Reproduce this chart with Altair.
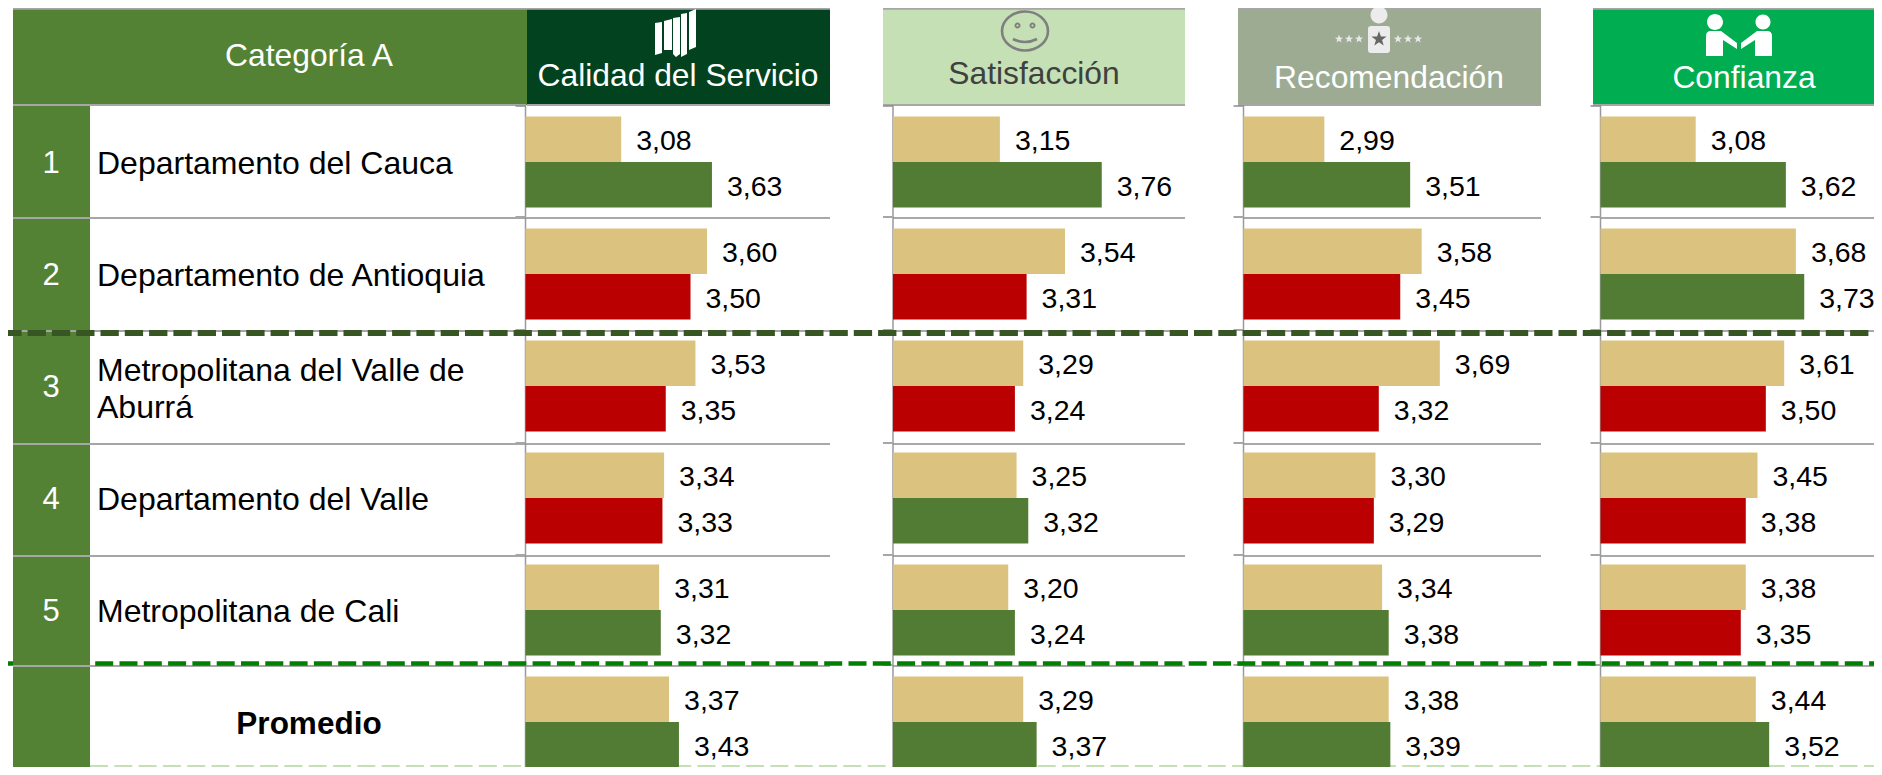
import altair as alt
import pandas as pd

# ---------- data ----------
ROWS = ["1", "2", "3", "4", "5", "P"]
ROW_NUM = ["1", "2", "3", "4", "5"]
ROW_NAMES = ["Departamento del Cauca", "Departamento de Antioquia",
             "", "Departamento del Valle", "Metropolitana de Cali"]
ROW3_NAME = ["Metropolitana del Valle de", "Aburrá"]
PANELS = ["Calidad del Servicio", "Satisfacción", "Recomendación", "Confianza"]
PREV = [
    [3.08, 3.60, 3.53, 3.34, 3.31, 3.37],
    [3.15, 3.54, 3.29, 3.25, 3.20, 3.29],
    [2.99, 3.58, 3.69, 3.30, 3.34, 3.38],
    [3.08, 3.68, 3.61, 3.45, 3.38, 3.44],
]
CURR = [
    [3.63, 3.50, 3.35, 3.33, 3.32, 3.43],
    [3.76, 3.31, 3.24, 3.32, 3.24, 3.37],
    [3.51, 3.45, 3.32, 3.29, 3.38, 3.39],
    [3.62, 3.73, 3.50, 3.38, 3.35, 3.52],
]

# ---------- layout (page pixels; the chart starts at 8,8) ----------
M = 8
FONT = "Liberation Sans"
TAN, GREEN, RED = "#DBC37F", "#527C34", "#BA0000"
CELL = "#548235"
GRID = "#A6A6A6"
AXIS_X = [525.5, 893, 1243.5, 1600.5]
HEAD_L = [527, 883, 1238, 1593]
HEAD_R = [830, 1185, 1541, 1882]
HEAD_BG = ["#02421F", "#C5E0B4", "#9DAB93", "#00AD50"]
HEAD_FG = ["#FFFFFF", "#404040", "#FFFFFF", "#FFFFFF"]
HEAD_TX = [678, 1034, 1389, 1744]
HEAD_TY = [76, 74, 78, 78]
BASE = [2.5, 2.51, 2.5, 2.51]
SLOPE = [165, 167, 165, 167]
ROW_LINES = [105, 218, 331, 444, 556, 666]
BOTTOM = 767


def px(v):
    return alt.value(v - M)


def rect(color, x0, x1, y0, y1):
    return alt.Chart(pd.DataFrame({"a": [0]})).mark_rect(color=color).encode(
        x=px(x0), x2=px(x1), y=px(y0), y2=px(y1))


def rule(color, width, x0, x1, y0, y1=None, dash=None):
    kw = {"color": color, "strokeWidth": width}
    if dash:
        kw["strokeDash"] = dash
    enc = dict(x=px(x0), x2=px(x1), y=px(y0))
    if y1 is not None:
        enc["y2"] = px(y1)
    return alt.Chart(pd.DataFrame({"a": [0]})).mark_rule(**kw).encode(**enc)


def label(text, x, y, color, size, align="center", weight="normal"):
    return alt.Chart(pd.DataFrame({"t": [text]})).mark_text(
        font=FONT, fontSize=size, color=color, align=align, baseline="middle",
        fontWeight=weight).encode(x=px(x), y=px(y), text="t:N")


def icon(path, x, y, fill=None, stroke=None, width=0):
    kw = {"shape": path, "size": 4, "opacity": 1, "filled": fill is not None}
    if fill is not None:
        kw["fill"] = fill
    if stroke is not None:
        kw["stroke"] = stroke
        kw["strokeWidth"] = width
    return alt.Chart(pd.DataFrame({"a": [0]})).mark_point(**kw).encode(x=px(x), y=px(y))


def circle(cx, cy, rx, ry=None):
    ry = rx if ry is None else ry
    return (f"M{cx-rx},{cy}A{rx},{ry} 0 1 0 {cx+rx},{cy}"
            f"A{rx},{ry} 0 1 0 {cx-rx},{cy}Z")


def star(cx, cy, r):
    pts = [(0, -1), (.235, -.324), (.951, -.309), (.38, .124), (.588, .809),
           (0, .4), (-.588, .809), (-.38, .124), (-.951, -.309), (-.235, -.324)]
    return "M" + "L".join(f"{cx+a*r:.2f},{cy+b*r:.2f}" for a, b in pts) + "Z"


# ---------- shared y scale ----------
Y_SCALE = alt.Scale(domain=ROWS, range=[106 - M, 778 - M], paddingInner=0, paddingOuter=0)
OFF_SCALE = alt.Scale(domain=["prev", "curr"], paddingInner=0, paddingOuter=0.2308)
COLOR = alt.Scale(domain=["tan", "green", "red"], range=[TAN, GREEN, RED])

layers = []

layers.append(rule("#C5E0B4", 2, 90, 1890, BOTTOM - 1, dash=[18, 6.3]))

# left table
layers.append(rect(CELL, 13, 527, M, 105))
layers.append(rect(CELL, 13, 90, 105, BOTTOM))

# row separators
for y in ROW_LINES:
    layers.append(rule(GRID, 2, 13, 526, y))
layers.append(rule(GRID, 2, 13, 527, M + 0.75))

# table text
layers.append(label("Categoría A", 309, 56, "#FFFFFF", 31.8))
tbl = pd.DataFrame({"row": ROW_NUM, "name": ROW_NAMES})
layers.append(alt.Chart(tbl).mark_text(font=FONT, fontSize=31, color="#FFFFFF", dy=2).encode(
    x=px(51), y=alt.Y("row:N", scale=Y_SCALE, axis=None), text="row:N"))
layers.append(alt.Chart(tbl).mark_text(font=FONT, fontSize=32, color="#000000", align="left",
                                       baseline="middle", dy=2).encode(
    x=px(97), y=alt.Y("row:N", scale=Y_SCALE, axis=None), text="name:N"))
layers.append(alt.Chart(pd.DataFrame({"row": ["3"], "name": [ROW3_NAME]})).mark_text(
    font=FONT, fontSize=32, color="#000000", align="left", baseline="middle", dy=-15,
    lineHeight=37).encode(
    x=px(97), y=alt.Y("row:N", scale=Y_SCALE, axis=None), text="name"))
layers.append(label("Promedio", 309, 725, "#000000", 31.5, weight="bold"))

# headers and panels
for i, name in enumerate(PANELS):
    layers.append(rect(HEAD_BG[i], HEAD_L[i], HEAD_R[i], M, 105))
    layers.append(rule(GRID, 2, HEAD_L[i], HEAD_R[i], M + 0.75))
    layers.append(rule(GRID, 2, HEAD_L[i], HEAD_R[i], 105))
    layers.append(label(name, HEAD_TX[i], HEAD_TY[i], HEAD_FG[i], 31.8))
    # axis line with its small ticks and row lines
    layers.append(rule("#9A9A9A", 1.5, AXIS_X[i], AXIS_X[i], 105, BOTTOM))
    for y in ROW_LINES[1:]:
        layers.append(rule("#8C8C8C", 1.5, AXIS_X[i], HEAD_R[i], y))
        layers.append(rule(GRID, 2, AXIS_X[i] - 10, AXIS_X[i], y - 1))
    layers.append(rule("#8C8C8C", 1.5, AXIS_X[i] - 10, AXIS_X[i], 106))

    df = pd.DataFrame({
        "row": ROWS * 2,
        "series": ["prev"] * 6 + ["curr"] * 6,
        "value": PREV[i] + CURR[i],
        "base": [BASE[i]] * 12,
        "tone": ["tan"] * 6 + ["green" if c >= p else "red" for p, c in zip(PREV[i], CURR[i])],
    })
    df["text"] = df["value"].map(lambda v: f"{v:.2f}".replace(".", ","))
    xs = alt.Scale(domain=[BASE[i], BASE[i] + (HEAD_R[i] - AXIS_X[i]) / SLOPE[i]],
                   range=[AXIS_X[i] - M, HEAD_R[i] - M], nice=False, zero=False)
    y_enc = alt.Y("row:N", scale=Y_SCALE, axis=None)
    off = alt.YOffset("series:N", scale=OFF_SCALE)
    bars = alt.Chart(df).mark_bar().encode(
        x=alt.X("base:Q", scale=xs, axis=None),
        x2=alt.X2("value:Q"),
        y=y_enc, yOffset=off,
        color=alt.Color("tone:N", scale=COLOR, legend=None))
    vals = alt.Chart(df).mark_text(font=FONT, fontSize=28.5, color="#000000", align="left",
                                   baseline="middle", dx=15, dy=2).encode(
        x=alt.X("value:Q", scale=xs, axis=None),
        y=y_enc, yOffset=off, text="text:N")
    layers.append(alt.layer(bars, vals))

# header icons
ICON_BAR = ("M-20,-8L-13,-9L-13,22L-20,24Z"
            "M-11,-10L-3,-12L-3,19L-11,19Z"
            "M-2,-13L5,-14L5,23L1,26L-2,23Z"
            "M6,-17L12,-18L12,23L6,26Z"
            "M14,-19L21,-22L21,16L14,19Z")
layers.append(icon(ICON_BAR, 675, 31, fill="#FFFFFF"))

layers.append(icon(circle(0, 0, 23, 19.5) + "M-12,8Q0,14 12,8", 1025, 31,
                   stroke="#7F7F7F", width=2.6))
layers.append(icon(circle(-7.5, -5.5, 3) + circle(7.5, -5.5, 3), 1025, 31, fill="#7F7F7F"))
layers.append(icon(circle(-7.5, -5.5, 1.1) + circle(7.5, -5.5, 1.1), 1025, 31, fill="#C5E0B4"))

ICON_PERSON = (circle(0, -24, 8.5)
               + "M-8,-13L8,-13Q11,-13 11,-10L11,11Q11,14 8,14L-8,14Q-11,14 -11,11L-11,-10Q-11,-13 -8,-13Z")
layers.append(icon(ICON_PERSON, 1379, 39, fill="#ECECEC"))
layers.append(icon(star(0, 0, 8), 1379, 39, fill="#666666"))
SMALL = "".join(star(dx, 0, 4.4) for dx in (-40, -30, -20, 19, 29, 39))
layers.append(icon(SMALL, 1379, 39, fill="#E8E8E8"))

ICON_SHAKE = (circle(-24, -13, 8) + circle(24, -13, 7.5)
              + "M-28,-4L-18,-4L-2,8L-2,14L-16,5L-16,21L-33,21L-33,1Q-33,-4 -28,-4Z"
              + "M28,-4L18,-4L2,8L2,14L16,5L16,21L33,21L33,1Q33,-4 28,-4Z")
layers.append(icon(ICON_SHAKE, 1739, 35, fill="#FFFFFF"))

# dashed separators on top; the green one does not show over the green column
layers.append(rule("#008000", 4.5, -2, 13, 663.5, dash=[18, 6.3]))
layers.append(rule("#008000", 4.5, 95.2, 1890, 663.5, dash=[18, 6.3]))
layers.append(rule("#375623", 6, 3.3, 1890, 333, dash=[18.3, 6]))

chart = alt.layer(*layers).resolve_scale(x="independent").properties(
    width=1866, height=759, padding=0, autosize=alt.AutoSizeParams(type="none"),
    background="#FFFFFF",
).configure_view(stroke=None)

chart.save("out.html", embed_options={"renderer": "svg", "actions": False})
